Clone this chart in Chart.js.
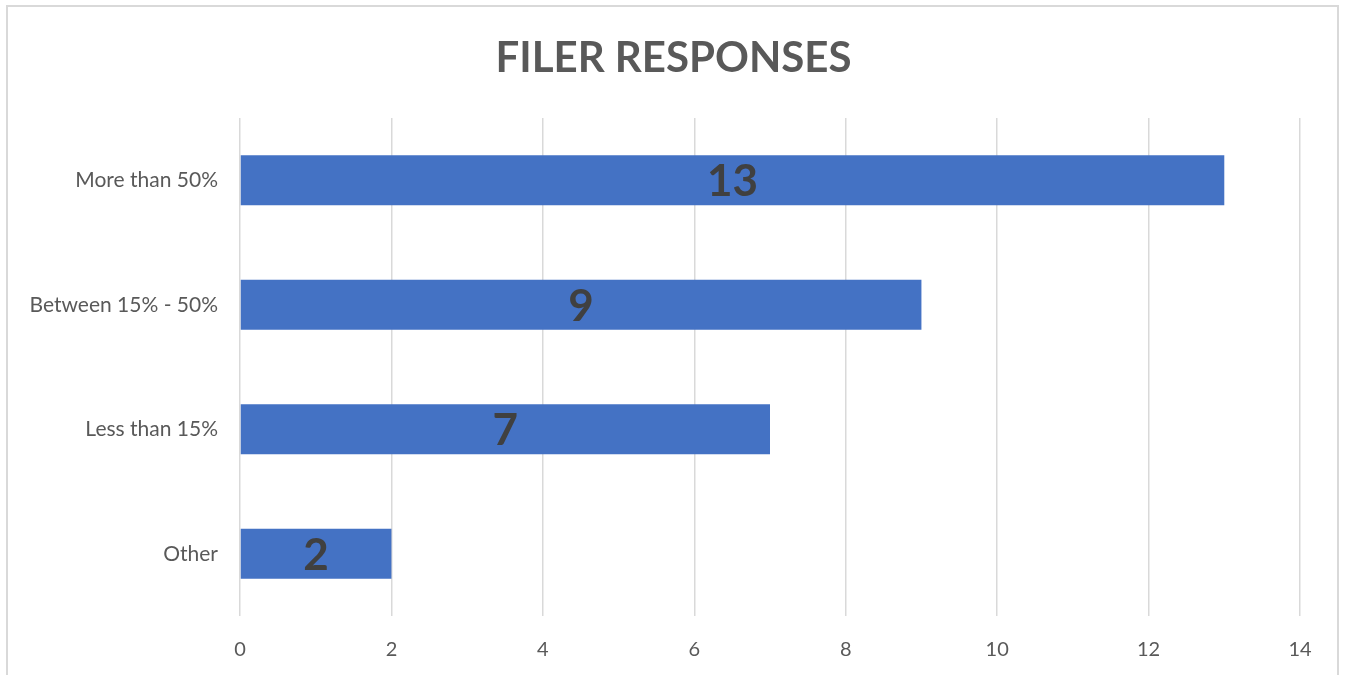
<!DOCTYPE html>
<html>
<head>
<meta charset="utf-8">
<script src="https://cdn.jsdelivr.net/npm/chart.js@4/dist/chart.umd.min.js"></script>
<style>
  html, body { margin: 0; padding: 0; background: #fff; overflow: hidden; }
  #wrap { position: relative; width: 1347px; height: 675px; }
  #frame { position: absolute; left: 6px; top: 5px; width: 1333px; height: 700px; border: 2px solid #d9d9d9; box-sizing: border-box; pointer-events: none; }
  canvas { position: absolute; left: 0; top: 0; }
</style>
</head>
<body>
<div id="wrap">
  <canvas id="c" width="1347" height="675"></canvas>
  <div id="frame"></div>
</div>
<script>
const categories = ["More than 50%", "Between 15% - 50%", "Less than 15%", "Other"];
const values = [13, 9, 7, 2];
const xTicks = [0, 2, 4, 6, 8, 10, 12, 14];
const titleText = "FILER RESPONSES";

const FONT = "Lato, 'Open Sans', sans-serif";

const centerLabels = {
  id: 'centerLabels',
  afterDatasetsDraw(chart) {
    const ctx = chart.ctx;
    const meta = chart.getDatasetMeta(0);
    ctx.save();
    ctx.font = "bold 44px " + FONT;
    ctx.fillStyle = "#404040";
    ctx.textAlign = "center";
    ctx.textBaseline = "middle";
    meta.data.forEach((bar, i) => {
      const p = bar.getProps(['x', 'y', 'base'], true);
      ctx.fillText(String(values[i]), (p.x + p.base) / 2, p.y + 2);
    });
    ctx.restore();
  }
};

const pageTitle = {
  id: 'pageTitle',
  afterDraw(chart) {
    const ctx = chart.ctx;
    ctx.save();
    ctx.font = "bold 42px " + FONT;
    ctx.fillStyle = "#595959";
    ctx.textAlign = "center";
    ctx.textBaseline = "middle";
    ctx.fillText(titleText, chart.width / 2, 58);
    ctx.restore();
  }
};

new Chart(document.getElementById('c'), {
  type: 'bar',
  data: {
    labels: categories,
    datasets: [{
      data: values,
      backgroundColor: '#4472C4',
      borderWidth: 0,
      categoryPercentage: 1.0,
      barPercentage: 0.4
    }]
  },
  options: {
    indexAxis: 'y',
    responsive: false,
    animation: false,
    devicePixelRatio: 1,
    layout: { padding: { left: 0, right: 47, top: 118, bottom: 0 } },
    plugins: {
      legend: { display: false },
      tooltip: { enabled: false },
      title: { display: false }
    },
    scales: {
      x: {
        min: 0, max: 14,
        afterBuildTicks(axis) { axis.ticks = xTicks.map(v => ({ value: v })); },
        afterFit(axis) { axis.height = 59; },
        grid: { color: '#d9d9d9', lineWidth: 1.5, drawTicks: false },
        border: { display: false },
        ticks: { color: '#595959', font: { family: FONT, size: 20 }, padding: 22 }
      },
      y: {
        afterFit(axis) { axis.width = 240; },
        grid: { display: false },
        border: { display: false },
        ticks: { color: '#595959', font: { family: FONT, size: 21 }, padding: 14 }
      }
    }
  },
  plugins: [centerLabels, pageTitle]
});
</script>
</body>
</html>
